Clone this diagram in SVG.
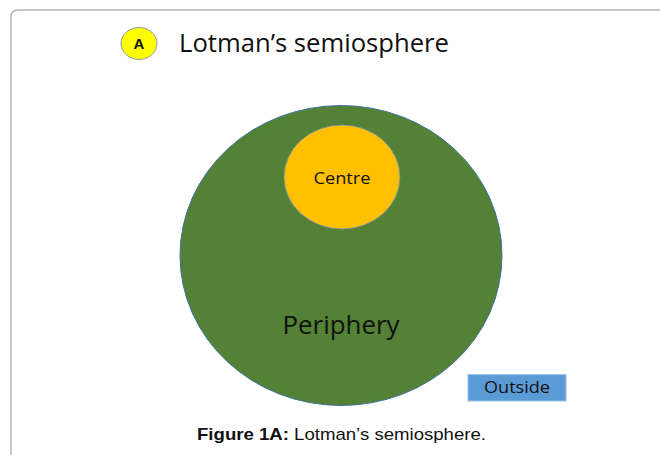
<svg xmlns="http://www.w3.org/2000/svg" width="660" height="455" viewBox="0 0 660 455">
<style>
.lbl{font-family:"Open Sans","Noto Sans","Liberation Sans",sans-serif;fill:#111;text-anchor:middle}
.cap{font-family:"Liberation Sans",Arial,sans-serif;font-size:17px;fill:#111;text-anchor:middle}
</style>
<rect x="0" y="0" width="660" height="455" fill="#fff"/>
<path d="M11,455 V17 Q11,10 18,10 H660" fill="none" stroke="#b4b4b4" stroke-width="1.5"/>
<g id="title">
<ellipse cx="139" cy="43.5" rx="18" ry="16" fill="#ffff00" stroke="#8497b0" stroke-width="1"/>
<text x="139" y="49" font-family="Liberation Sans,Arial,sans-serif" font-weight="bold" font-size="15" text-anchor="middle" fill="#111">A</text>
<text x="179" y="52" font-family="Open Sans,Noto Sans,Liberation Sans,sans-serif" font-size="26" fill="#111" textLength="270" lengthAdjust="spacingAndGlyphs">Lotman’s semiosphere</text>
</g>
<g id="periphery">
<ellipse cx="341" cy="255.5" rx="161" ry="150" fill="#538135" stroke="#41719c" stroke-width="1"/>
<text class="lbl" x="341" y="334" font-size="26" textLength="117" lengthAdjust="spacingAndGlyphs">Periphery</text>
</g>
<g id="centre">
<ellipse cx="342" cy="177" rx="58" ry="52" fill="#ffc000" stroke="#6a8fb8" stroke-width="0.8"/>
<text class="lbl" x="342" y="184" font-size="16" textLength="57" lengthAdjust="spacingAndGlyphs">Centre</text>
</g>
<g id="outside">
<rect x="468" y="374.5" width="98" height="26.5" fill="#5b9bd5" stroke="#9dc3e6" stroke-width="1"/>
<text class="lbl" x="517" y="393" font-size="16" textLength="66" lengthAdjust="spacingAndGlyphs">Outside</text>
</g>
<g id="connectors"/>
<text class="cap" x="341.5" y="440" textLength="289" lengthAdjust="spacingAndGlyphs"><tspan font-weight="bold">Figure 1A:</tspan> Lotman’s semiosphere.</text>
</svg>
